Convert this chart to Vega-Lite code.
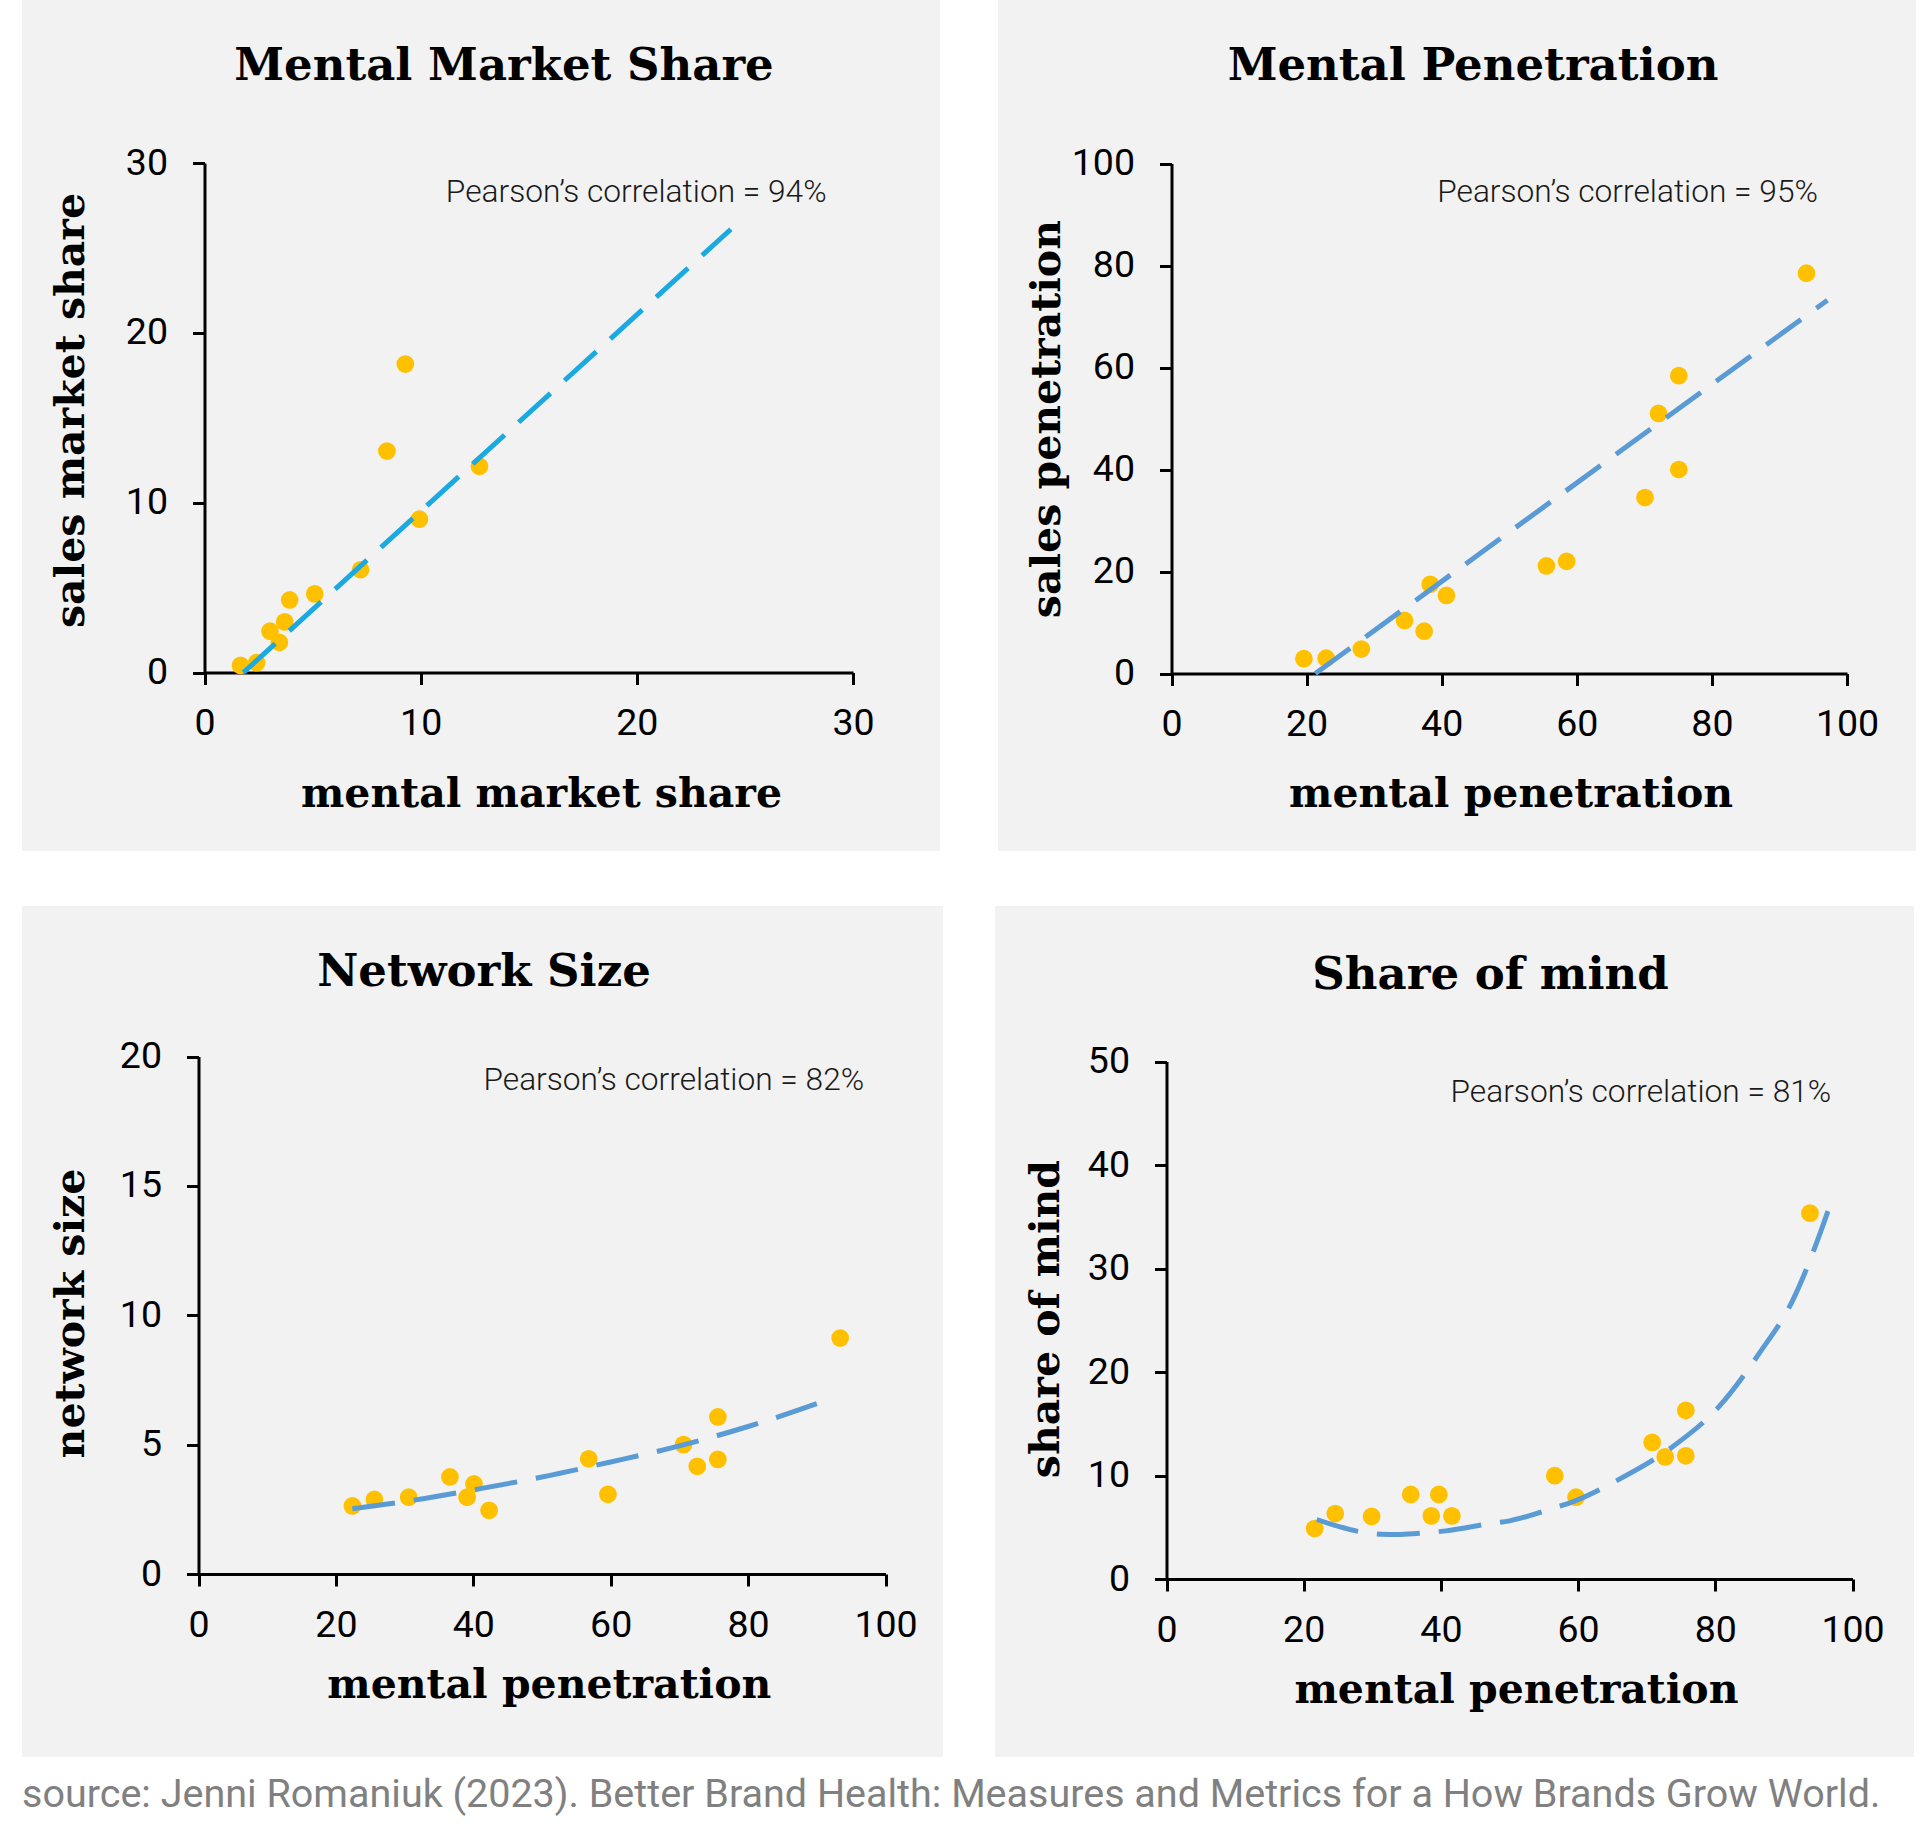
{
  "$schema": "https://vega.github.io/schema/vega-lite/v6.json",
  "background": "white",
  "padding": {"left": 22, "top": 0, "right": 0, "bottom": 20},
  "title": {
    "text": "source: Jenni Romaniuk (2023). Better Brand Health: Measures and Metrics for a How Brands Grow World.",
    "orient": "bottom",
    "anchor": "start",
    "font": "Roboto",
    "fontSize": 39.5,
    "fontWeight": "normal",
    "color": "#808080",
    "offset": 19
  },
  "datasets": {
    "p1pts": [
      {"x": 1.67, "y": 0.42}, {"x": 2.41, "y": 0.58}, {"x": 3.03, "y": 2.43},
      {"x": 3.46, "y": 1.78}, {"x": 3.71, "y": 2.98}, {"x": 3.94, "y": 4.27},
      {"x": 5.1, "y": 4.63}, {"x": 7.22, "y": 6.05}, {"x": 8.44, "y": 13.04},
      {"x": 9.29, "y": 18.16}, {"x": 9.94, "y": 9.03}, {"x": 12.72, "y": 12.14}
    ],
    "p1fit": [{"x": 1.8, "y": 0}, {"x": 24.35, "y": 26.1}],
    "p2pts": [
      {"x": 19.6, "y": 2.9}, {"x": 22.9, "y": 3.0}, {"x": 28.1, "y": 4.8},
      {"x": 34.5, "y": 10.4}, {"x": 37.4, "y": 8.3}, {"x": 38.3, "y": 17.5},
      {"x": 40.7, "y": 15.3}, {"x": 55.5, "y": 21.1}, {"x": 58.5, "y": 22.0},
      {"x": 70.1, "y": 34.5}, {"x": 72.1, "y": 51.0}, {"x": 75.1, "y": 40.0},
      {"x": 75.1, "y": 58.4}, {"x": 94.0, "y": 78.5}
    ],
    "p2fit": [{"x": 21.3, "y": 0}, {"x": 97.1, "y": 73.2}],
    "p3pts": [
      {"x": 22.4, "y": 2.63}, {"x": 25.6, "y": 2.88}, {"x": 30.6, "y": 2.97},
      {"x": 36.6, "y": 3.75}, {"x": 39.1, "y": 2.97}, {"x": 40.1, "y": 3.48},
      {"x": 42.3, "y": 2.46}, {"x": 56.8, "y": 4.45}, {"x": 59.6, "y": 3.08},
      {"x": 70.6, "y": 5.0}, {"x": 72.6, "y": 4.16}, {"x": 75.6, "y": 6.07},
      {"x": 75.6, "y": 4.43}, {"x": 93.4, "y": 9.12}
    ],
    "p3fit": [
      {"x": 22.4, "y": 2.52}, {"x": 30, "y": 2.8}, {"x": 40, "y": 3.25},
      {"x": 50, "y": 3.75}, {"x": 60, "y": 4.33}, {"x": 70, "y": 4.95},
      {"x": 80, "y": 5.7}, {"x": 92, "y": 6.77}
    ],
    "p4pts": [
      {"x": 21.6, "y": 4.88}, {"x": 24.6, "y": 6.32}, {"x": 29.9, "y": 6.05},
      {"x": 35.6, "y": 8.17}, {"x": 38.6, "y": 6.1}, {"x": 39.7, "y": 8.17},
      {"x": 41.6, "y": 6.1}, {"x": 56.6, "y": 9.98}, {"x": 59.7, "y": 7.9},
      {"x": 70.8, "y": 13.2}, {"x": 72.7, "y": 11.8}, {"x": 75.7, "y": 16.3},
      {"x": 75.7, "y": 11.9}, {"x": 93.8, "y": 35.35}
    ],
    "p4fit": [
      {"x": 21.9, "y": 5.75}, {"x": 28.3, "y": 4.56}, {"x": 31.2, "y": 4.33},
      {"x": 34.1, "y": 4.3}, {"x": 37.7, "y": 4.46}, {"x": 40.7, "y": 4.65},
      {"x": 47.2, "y": 5.36}, {"x": 50.0, "y": 5.62}, {"x": 56.5, "y": 6.88},
      {"x": 59.2, "y": 7.46}, {"x": 65.3, "y": 9.39}, {"x": 73.4, "y": 12.6},
      {"x": 80.6, "y": 16.7}, {"x": 86.4, "y": 21.8}, {"x": 91.3, "y": 26.95},
      {"x": 95.0, "y": 32.9}, {"x": 96.5, "y": 35.7}
    ]
  },
  "vconcat": [
    {
      "hconcat": [
        {
          "width": 918,
          "height": 851,
          "title": {"text": "Mental Market Share", "offset": -89, "dx": 23},
          "layer": [
            {
              "data": {"name": "p1pts"},
              "mark": {"type": "circle", "size": 314, "color": "#FFC000", "opacity": 1},
              "encoding": {
                "x": {
                  "field": "x", "type": "quantitative",
                  "scale": {"domain": [0, 30], "range": [182.5, 831], "nice": false, "zero": false},
                  "axis": {"title": "mental market share", "values": [0, 10, 20, 30], "offset": -178.5, "titleX": 519, "titleY": 133.5}
                },
                "y": {
                  "field": "y", "type": "quantitative",
                  "scale": {"domain": [0, 30], "range": [672.5, 163], "nice": false, "zero": false},
                  "axis": {"title": "sales market share", "values": [0, 10, 20, 30], "offset": -182.5, "titleX": -121.5, "titleY": 410}
                }
              }
            },
            {
              "data": {"name": "p1fit"},
              "mark": {"type": "line", "color": "#1AA9E0", "strokeWidth": 5, "strokeDash": [43, 19]},
              "encoding": {"x": {"field": "x", "type": "quantitative"}, "y": {"field": "y", "type": "quantitative"}}
            },
            {
              "data": {"values": [{"label": "Pearson’s correlation = 94%"}]},
              "mark": {"type": "text", "align": "right", "baseline": "alphabetic", "font": "Roboto", "fontWeight": 300, "fontSize": 31.7, "color": "#1a1a1a"},
              "encoding": {"x": {"datum": 28.78}, "y": {"datum": 27.73}, "text": {"field": "label"}}
            }
          ]
        },
        {
          "width": 918,
          "height": 851,
          "title": {"text": "Mental Penetration", "offset": -89, "dx": 16},
          "layer": [
            {
              "data": {"name": "p2pts"},
              "mark": {"type": "circle", "size": 314, "color": "#FFC000", "opacity": 1},
              "encoding": {
                "x": {
                  "field": "x", "type": "quantitative",
                  "scale": {"domain": [0, 100], "range": [173.5, 849], "nice": false, "zero": false},
                  "axis": {"title": "mental penetration", "values": [0, 20, 40, 60, 80, 100], "offset": -177.5, "titleX": 512.6, "titleY": 132.5}
                },
                "y": {
                  "field": "y", "type": "quantitative",
                  "scale": {"domain": [0, 100], "range": [673.5, 163.5], "nice": false, "zero": false},
                  "axis": {"title": "sales penetration", "values": [0, 20, 40, 60, 80, 100], "offset": -173.5, "titleX": -112, "titleY": 418.6}
                }
              }
            },
            {
              "data": {"name": "p2fit"},
              "mark": {"type": "line", "color": "#5B9BD5", "strokeWidth": 5, "strokeDash": [43, 19]},
              "encoding": {"x": {"field": "x", "type": "quantitative"}, "y": {"field": "y", "type": "quantitative"}}
            },
            {
              "data": {"values": [{"label": "Pearson’s correlation = 95%"}]},
              "mark": {"type": "text", "align": "right", "baseline": "alphabetic", "font": "Roboto", "fontWeight": 300, "fontSize": 31.7, "color": "#1a1a1a"},
              "encoding": {"x": {"datum": 95.7}, "y": {"datum": 92.5}, "text": {"field": "label"}}
            }
          ]
        }
      ],
      "spacing": 58
    },
    {
      "hconcat": [
        {
          "width": 921,
          "height": 851,
          "title": {"text": "Network Size", "offset": -89, "dx": 1.5},
          "layer": [
            {
              "data": {"name": "p3pts"},
              "mark": {"type": "circle", "size": 314, "color": "#FFC000", "opacity": 1},
              "encoding": {
                "x": {
                  "field": "x", "type": "quantitative",
                  "scale": {"domain": [0, 100], "range": [176.5, 863.5], "nice": false, "zero": false},
                  "axis": {"title": "mental penetration", "values": [0, 20, 40, 60, 80, 100], "offset": -183, "titleX": 526.8, "titleY": 123}
                },
                "y": {
                  "field": "y", "type": "quantitative",
                  "scale": {"domain": [0, 20], "range": [668, 150.5], "nice": false, "zero": false},
                  "axis": {"title": "network size", "values": [0, 5, 10, 15, 20], "offset": -176.5, "titleX": -115.5, "titleY": 407}
                }
              }
            },
            {
              "data": {"name": "p3fit"},
              "mark": {"type": "line", "interpolate": "monotone", "color": "#5B9BD5", "strokeWidth": 5, "strokeDash": [43, 19]},
              "encoding": {"x": {"field": "x", "type": "quantitative"}, "y": {"field": "y", "type": "quantitative"}}
            },
            {
              "data": {"values": [{"label": "Pearson’s correlation = 82%"}]},
              "mark": {"type": "text", "align": "right", "baseline": "alphabetic", "font": "Roboto", "fontWeight": 300, "fontSize": 31.7, "color": "#1a1a1a"},
              "encoding": {"x": {"datum": 96.9}, "y": {"datum": 18.69}, "text": {"field": "label"}}
            }
          ]
        },
        {
          "width": 919,
          "height": 851,
          "title": {"text": "Share of mind", "offset": -91.5, "dx": 36},
          "layer": [
            {
              "data": {"name": "p4pts"},
              "mark": {"type": "circle", "size": 314, "color": "#FFC000", "opacity": 1},
              "encoding": {
                "x": {
                  "field": "x", "type": "quantitative",
                  "scale": {"domain": [0, 100], "range": [171.5, 857.5], "nice": false, "zero": false},
                  "axis": {"title": "mental penetration", "values": [0, 20, 40, 60, 80, 100], "offset": -178, "titleX": 521, "titleY": 123.6}
                },
                "y": {
                  "field": "y", "type": "quantitative",
                  "scale": {"domain": [0, 50], "range": [673, 155.5], "nice": false, "zero": false},
                  "axis": {"title": "share of mind", "values": [0, 10, 20, 30, 40, 50], "offset": -171.5, "titleX": -108, "titleY": 412.6}
                }
              }
            },
            {
              "data": {"name": "p4fit"},
              "mark": {"type": "line", "interpolate": "monotone", "color": "#5B9BD5", "strokeWidth": 5, "strokeDash": [43, 19]},
              "encoding": {"x": {"field": "x", "type": "quantitative"}, "y": {"field": "y", "type": "quantitative"}}
            },
            {
              "data": {"values": [{"label": "Pearson’s correlation = 81%"}]},
              "mark": {"type": "text", "align": "right", "baseline": "alphabetic", "font": "Roboto", "fontWeight": 300, "fontSize": 31.7, "color": "#1a1a1a"},
              "encoding": {"x": {"datum": 96.9}, "y": {"datum": 46.1}, "text": {"field": "label"}}
            }
          ]
        }
      ],
      "spacing": 52
    }
  ],
  "spacing": 55,
  "config": {
    "view": {"fill": "#F2F2F2", "stroke": null},
    "title": {
      "font": "DejaVu Serif",
      "fontSize": 45,
      "fontWeight": "bold",
      "color": "#000000",
      "anchor": "middle",
      "frame": "group",
      "baseline": "alphabetic"
    },
    "axis": {
      "grid": false,
      "domainColor": "#000000",
      "domainWidth": 3,
      "tickColor": "#000000",
      "tickWidth": 3,
      "tickSize": 12,
      "labelFont": "Roboto",
      "labelFontSize": 37.5,
      "labelColor": "#000000",
      "labelFlush": false,
      "labelOverlap": false,
      "titleFont": "DejaVu Serif",
      "titleFontSize": 41,
      "titleFontWeight": "bold",
      "titleColor": "#000000",
      "titleAlign": "center",
      "titleBaseline": "alphabetic"
    },
    "axisX": {"labelPadding": 20},
    "axisY": {"labelPadding": 25, "titleAngle": 270}
  }
}
